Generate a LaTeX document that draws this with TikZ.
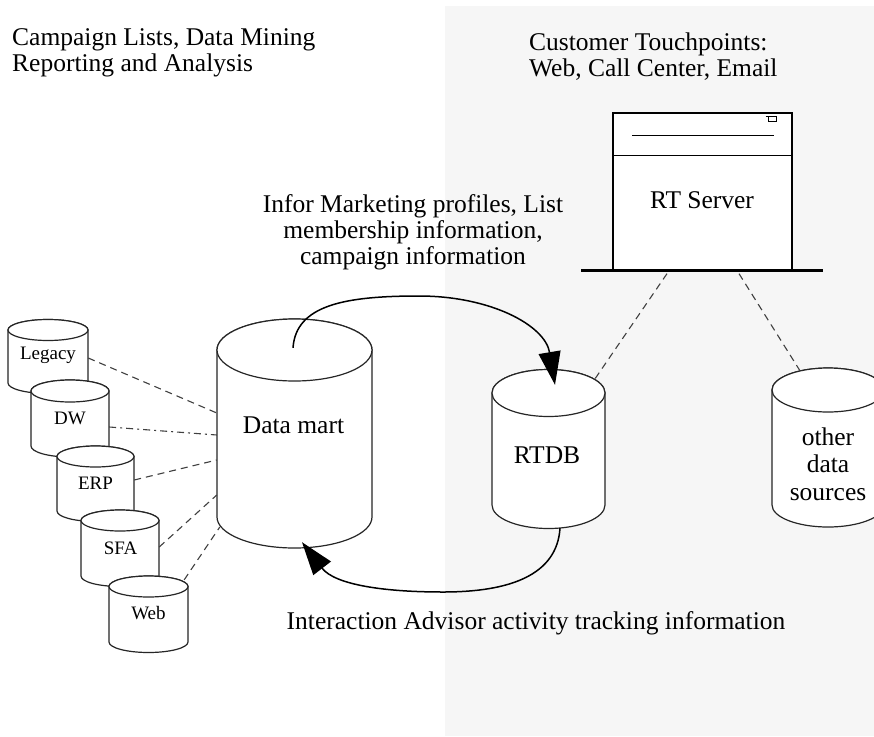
\documentclass[tikz,border=0pt]{standalone}
\usepackage{fontspec}
\setmainfont{Liberation Serif}
\usetikzlibrary{arrows.meta,calc}
\definecolor{panelgray}{RGB}{246,246,246}
\tikzset{
  cyl/.style={draw=black!85, fill=white, line width=1.2pt},
  lbl/.style={inner sep=0pt, font=\fontsize{25.5}{26}\selectfont},
  smalllbl/.style={inner sep=0pt, font=\fontsize{19}{20}\selectfont},
  dashlink/.style={draw=black!75, line width=1.1pt, dash pattern=on 7pt off 5pt},
  dotlink/.style={draw=black!75, line width=1.1pt, dash pattern=on 7pt off 4pt on 2pt off 4pt},
  flow/.style={draw=black, line width=1.5pt, -{Triangle[length=33pt,width=22pt]}},
}
\newcommand\dbcyl[6]{%
  \filldraw[cyl] ({#2-#5},#3) -- ({#2-#5},#4) arc[start angle=180,end angle=0,x radius=#5,y radius=#6] -- ({#2+#5},#3) arc[start angle=0,end angle=-180,x radius=#5,y radius=#6] -- cycle;
  \draw[cyl] (#2,#3) ellipse[x radius=#5, y radius=#6];
  \node[inner sep=0pt, minimum width={2*#5}, minimum height={#4-#3}] (#1) at (#2,{(#3+#4)/2}) {};
}
\begin{document}
\begin{tikzpicture}[x=1pt,y=-1pt]
\clip (0,0) rectangle (874,736);
\fill[white] (0,0) rectangle (874,736);
\fill[panelgray] (445,6) rectangle (874,736);

% headings
\node[lbl, anchor=west, align=left] (tl) at (12,53) {Campaign Lists, Data Mining\\Reporting and Analysis};
\node[lbl, anchor=west, align=left] (tr) at (529,57) {Customer Touchpoints:\\Web, Call Center, Email};
\node[lbl, align=center] (info) at (413,232.5) {Infor Marketing profiles, List\\membership information,\\campaign information};
\node[lbl] (ia) at (536,623) {Interaction Advisor activity tracking information};

% RT server
\node[draw, fill=white, line width=1.3pt, minimum width=179, minimum height=157, inner sep=0pt] (srv) at (702.5,191.5) {};
\draw[line width=1.3pt] ($(srv.north west)+(0,43)$) -- ($(srv.north east)+(0,43)$);
\draw[line width=1.3pt] ($(srv.north west)+(20,23)$) -- ($(srv.north east)+(-19,23)$);
\draw[line width=1.1pt] ($(srv.north east)+(-27,4.5)$) -- ++(11,0) -- ++(0,5) -- ++(-8,0) -- ++(0,-5);
\draw[line width=2.6pt] ($(srv.south west)+(-31,0)$) -- ($(srv.south east)+(30,0)$);
\node[lbl] (srvtxt) at (702,200) {RT Server};

% small source cylinders
\dbcyl{legacy}{48}{330}{383}{40}{10.5}
\node[smalllbl] at (48,355) {Legacy};
\dbcyl{dw}{70}{391}{446}{39}{11}
\node[smalllbl] at (70,418) {DW};
\dbcyl{erp}{95.5}{456.5}{511}{38.5}{10.5}
\node[smalllbl] at (95.5,483) {ERP};
\dbcyl{sfa}{120}{520.5}{576}{39}{10.5}
\node[smalllbl] at (120.5,548) {SFA};
\dbcyl{web}{148.5}{586.5}{642}{39.5}{10.5}
\node[smalllbl] at (148.5,613) {Web};

% main cylinders
\dbcyl{dm}{294.5}{350}{517}{77.5}{31}
\node[lbl] (dmtxt) at (293.5,425) {Data mart};
\dbcyl{rtdb}{548.5}{393}{505}{56.5}{23.5}
\node[lbl] (rtdbtxt) at (547,455) {RTDB};
\dbcyl{other}{828}{390}{505}{56}{22}
\node[lbl, align=center, font=\fontsize{25.5}{27.5}\selectfont] (othertxt) at (828,464) {other\\data\\sources};

% dashed links
\draw[dashlink] ($(legacy.east)+(0,1.5)$) -- ($(dm.west)+(0,-20.5)$);
\draw[dotlink] ($(dw.east)+(0,8.5)$) -- ($(dm.west)+(0,1.5)$);
\draw[dashlink] ($(erp.east)+(0,-3.75)$) -- ($(dm.west)+(0,26.5)$);
\draw[dashlink] ($(sfa.east)+(0,-1.25)$) -- ($(dm.west)+(0,61.5)$);
\draw[dashlink] ($(web.north east)+(-4,-6.5)$) -- ($(dm.west)+(3,93.5)$);
\draw[dashlink] ($(srv.south)+(-35.5,3)$) -- ($(rtdb.north)+(46.5,-14)$);
\draw[dashlink] ($(srv.south)+(36.5,3)$) -- ($(other.north)+(-28,-19)$);

% flows
\coordinate (peak) at (419,296);
\coordinate (trough) at (443,592);
\draw[flow] ($(dm.north)+(-1.5,-2)$) .. controls (296,305) and (345,296) .. (peak) .. controls (490,296) and (545,325) .. ($(rtdb.north)+(6.5,-8)$);
\draw[flow] ($(rtdb.south)+(11.5,23)$) .. controls (557,575) and (510,592) .. (trough) .. controls (385,592) and (335,585) .. ($(dm.south)+(7.5,25)$);
\end{tikzpicture}
\end{document}
